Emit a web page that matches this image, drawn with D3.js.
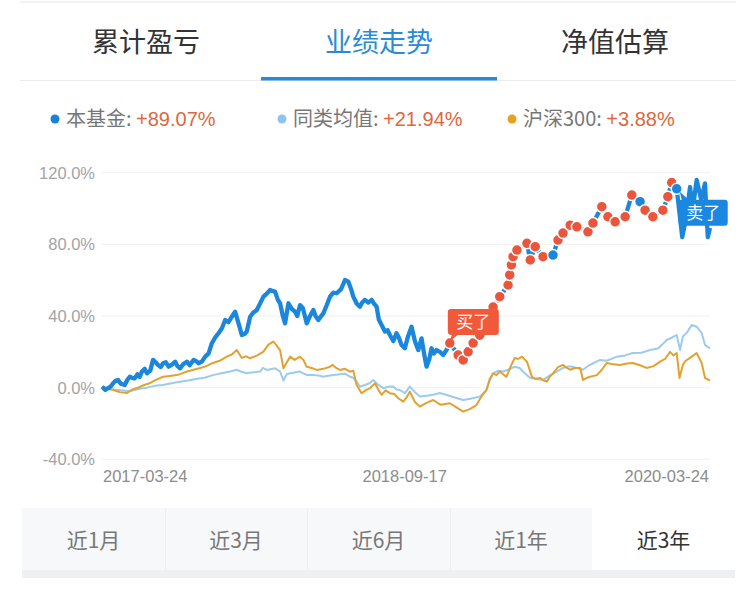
<!DOCTYPE html>
<html><head><meta charset="utf-8">
<script src="https://cdn.jsdelivr.net/npm/d3@7"></script>
<style>
html,body{margin:0;padding:0;background:#fff;}
svg{display:block;font-family:"Liberation Sans","Noto Sans CJK SC",sans-serif;}
</style></head>
<body>
<script>
// ---- data (day offsets from 2017-03-24, cumulative return %) ----
const startDate = "2017-03-24";
const endDate = "2020-03-24";
const topTabs = ["累计盈亏", "业绩走势", "净值估算"];
const bottomTabs = ["近1月", "近3月", "近6月", "近1年", "近3年"];
const seriesNames = ["本基金", "同类均值", "沪深300"];
const seriesFinal = ["+89.07%", "+21.94%", "+3.88%"];
const yTicks = [-40, 0, 40, 80, 120];
const xTickLabels = ["2017-03-24", "2018-09-17", "2020-03-24"];

const fund = [[0,0.5],[6,-1.2],[11,-0.3],[16,0.8],[20,2.4],[24,3.8],[29,4.3],[34,2.2],[41,1.5],[46,4.5],[50,6.1],[54,5.5],[59,5.2],[64,7.5],[68,6],[72,9],[77,10.5],[81,8],[87,9.5],[92,15.5],[97,14],[101,12.7],[106,11.5],[110,13.6],[115,14.2],[120,11.7],[126,12.8],[132,14.5],[136,12],[141,10.8],[146,13],[153,14.5],[158,12.5],[165,15.5],[170,14.8],[174,13.6],[180,14.5],[186,17.3],[192,19],[198,24.8],[204,28],[210,30.4],[216,33],[222,37.8],[228,36.5],[234,39.6],[240,42.4],[246,36],[252,29.4],[257,30],[261,31.3],[267,39.6],[273,42],[279,43.4],[285,47],[291,50.8],[297,52.5],[303,54.5],[307,54],[312,53.6],[317,49],[321,47.1],[326,40],[330,35.9],[336,47.1],[342,44],[348,42.4],[352,40],[357,46.1],[362,44.5],[369,35.9],[375,40],[381,43.4],[385,40],[390,37.8],[394,39.5],[399,41.5],[405,46],[411,50.8],[417,53],[423,52.7],[431,55],[438,60.1],[444,59.2],[449,55],[453,50.8],[459,47],[465,45.2],[469,47.5],[474,49],[480,47.5],[486,49],[490,47],[495,45.2],[499,38],[504,35],[510,31.3],[515,32],[519,29.4],[525,26],[531,30.4],[535,28],[540,23.8],[546,22],[551,28],[558,34],[564,26],[570,21],[576,27.5],[580,20],[585,11.7],[590,16],[594,22],[598,19],[603,21],[609,20],[615,18.2],[621,21],[627,24.9],[642,18.2],[651,15.5],[660,20],[669,24.9],[681,29.3],[699,37.8],[705,45],[717,50.8],[732,57.3],[735,62.9],[738,68.5],[741,73.1],[748,76.8],[766,80.6],[772,71.3],[781,78.7],[795,73.1],[813,74],[822,82.4],[831,86.3],[844,90.7],[856,89.8],[876,87],[885,91.9],[901,101],[912,95.4],[925,92.6],[943,95.4],[955,107.5],[970,103.8],[979,99.1],[993,95.4],[1011,99.1],[1020,106.6],[1027,114.5],[1036,111],[1046,84],[1053,95],[1060,112],[1065,100],[1072,116],[1080,105],[1087,114],[1092,84],[1096,89.07]];

const category = [[0,0.5],[20,-1],[35,-1.5],[50,-2],[65,-0.8],[81,0],[95,1],[110,1.5],[125,2.5],[141,3.3],[155,4],[171,5],[185,5.5],[200,7],[215,8],[231,9],[243,10],[250,9],[261,8],[270,8.5],[285,9],[290,11],[297,9.9],[312,10.8],[321,9],[327,4],[333,7.5],[339,8],[347,8.5],[357,9],[363,8],[369,7.1],[380,7],[390,6.8],[399,6.1],[405,6.5],[418,7],[429,7.5],[438,7.8],[447,6.1],[453,5.5],[459,3.3],[465,0.6],[474,1.5],[483,2.6],[489,4.3],[498,1.5],[507,-0.3],[516,0.5],[525,0.6],[531,-1],[537,-1.3],[546,-3.1],[555,0.6],[564,-2.5],[573,-5],[585,-4.5],[597,-4],[609,-3],[620,-4],[636,-5.5],[651,-6.9],[666,-6],[681,-5],[693,-1.3],[699,4],[705,8],[714,9.5],[723,9],[732,10],[744,11.7],[753,11],[762,8],[772,5.4],[783,4.8],[795,4.3],[808,7],[820,9],[831,11],[843,12],[856,11],[867,10],[878,12.5],[898,15.5],[910,15],[928,17.3],[943,18],[957,19.3],[972,19.5],[988,21],[1003,22],[1018,26.6],[1028,28],[1036,29.4],[1042,21],[1047,28.5],[1055,31],[1063,35],[1072,34],[1081,30.5],[1087,23.8],[1096,21.94]];

const hs300 = [[0,0.5],[10,-0.5],[20,-1.3],[32,-2.5],[45,-3],[55,-1],[65,0],[76,1.5],[87,2.6],[98,4.5],[110,6.1],[122,6.5],[135,7],[144,8],[153,9],[165,10],[177,11],[188,12],[200,13.8],[212,15],[225,17.3],[234,18.5],[243,21],[252,16.6],[260,17.5],[267,16.4],[280,18],[291,20.1],[300,24],[309,25.7],[315,23.5],[321,21],[327,10.8],[333,14],[339,17.3],[347,15.5],[357,17.3],[363,15.5],[369,11.7],[378,11],[387,9.9],[399,10.5],[411,11.7],[416,12.7],[422,11],[429,9.9],[438,10.5],[447,8.9],[453,9.5],[459,1.5],[468,-3.1],[475,-1.5],[483,-0.3],[492,2.4],[498,-1],[504,-4],[511,-1.5],[519,-3.1],[527,-3.5],[534,-5.9],[543,-7.8],[549,-5.5],[555,-2.2],[564,-8],[573,-10.6],[585,-8.5],[597,-6.9],[610,-9.5],[627,-8.7],[639,-11],[651,-13.4],[663,-12],[675,-9.7],[684,-5],[693,-1.3],[699,5],[705,8],[711,7],[717,9],[723,7.5],[729,6],[737,12],[744,16.6],[750,16],[757,17.3],[766,14.5],[775,6],[781,5],[790,5.4],[796,4],[802,3.4],[807,6],[813,8],[822,11.5],[831,12.7],[838,11],[844,10],[853,11],[862,11],[867,4.3],[878,6],[892,7],[901,10],[910,13.8],[922,13],[934,12.7],[946,13.5],[957,13.8],[970,12.5],[982,11],[994,12],[1006,14.5],[1015,16],[1024,20],[1030,18],[1036,19.3],[1041,5.4],[1047,12.7],[1052,15],[1060,16.6],[1066,18],[1072,19.3],[1081,13.8],[1087,5.4],[1096,3.88]];

const buyDays = [627,642,651,660,669,681,699,705,717,732,735,738,741,748,766,772,781,795,822,831,844,856,876,885,901,912,925,943,955,979,993,1011,1020,1027];
const sellDays = [813,970,1036];
const buyLabelDay = 627, sellLabelDay = 1036;

// ---- drawing ----
const W = 754, H = 605;
const svg = d3.select("body").append("svg").attr("width", W).attr("height", H);
const parse = d3.timeParse("%Y-%m-%d");
const t0 = parse(startDate);
const toDate = d => d3.timeDay.offset(t0, d);
const x = d3.scaleTime().domain([t0, parse(endDate)]).range([102, 710]);
const y = d3.scaleLinear().domain([-40, 120]).range([459.3, 172.7]);
const byDay = a => a.slice().sort((p,q)=>p[0]-q[0]);

const C = {fund:"#1a87dc", cat:"#9ccbee", hs:"#e3a12f", red:"#ea553b", blueTab:"#2a8ad6"};

// top tabs
svg.append("rect").attr("x",20).attr("y",1).attr("width",716).attr("height",2).attr("fill","#f3f3f3");
const tabCx = [146, 379, 615];
topTabs.forEach((t,i)=>{
  svg.append("text").attr("x",tabCx[i]).attr("y",42).attr("text-anchor","middle").attr("dy","0.36em")
    .attr("font-size",27).attr("font-family","'Noto Sans CJK SC',sans-serif")
    .attr("fill", i===1 ? C.blueTab : "#333").text(t);
});
svg.append("rect").attr("x",20).attr("y",80).attr("width",716).attr("height",1).attr("fill","#ececec");
svg.append("rect").attr("x",261).attr("y",77).attr("width",236).attr("height",3.5).attr("fill",C.blueTab);

// legend
const legX = [55, 282, 512];
const legCol = ["#1782d9", "#8cc3ef", "#e6a21c"];
seriesNames.forEach((n,i)=>{
  svg.append("circle").attr("cx",legX[i]).attr("cy",119).attr("r",4.5).attr("fill",legCol[i]);
  const t = svg.append("text").attr("x",legX[i]+11).attr("y",119).attr("dy","0.36em").attr("font-size",20)
    .attr("font-family","'Noto Sans CJK SC',sans-serif");
  t.append("tspan").attr("fill","#777").text(n+": ");
  t.append("tspan").attr("fill","#e0673d").attr("font-family","'Liberation Sans',sans-serif").text(seriesFinal[i]);
});

// grid + y labels
yTicks.forEach(v=>{
  svg.append("line").attr("x1",102).attr("x2",710).attr("y1",y(v)).attr("y2",y(v))
    .attr("stroke","#f1f1f1").attr("stroke-width",1);
  svg.append("text").attr("x",95).attr("y",y(v)).attr("dy","0.36em").attr("text-anchor","end")
    .attr("font-size",16.5).attr("fill","#a3a3a3").text(v.toFixed(1)+"%");
});

// x labels
const anchors = ["start","middle","end"];
xTickLabels.forEach((s,i)=>{
  svg.append("text").attr("x", x(parse(s)) + (i===0?1:(i===2?-1:2))).attr("y",476).attr("dy","0.36em")
    .attr("text-anchor",anchors[i]).attr("font-size",16.5).attr("fill","#8c8c8c").text(s);
});

// lines
const line = d3.line().x(d=>x(toDate(d[0]))).y(d=>y(d[1]));
svg.append("path").datum(byDay(category)).attr("d",line).attr("fill","none").attr("stroke",C.cat).attr("stroke-width",2).attr("stroke-linejoin","round");
svg.append("path").datum(byDay(hs300)).attr("d",line).attr("fill","none").attr("stroke",C.hs).attr("stroke-width",2).attr("stroke-linejoin","round");
svg.append("path").datum(byDay(fund)).attr("d",line).attr("fill","none").attr("stroke",C.fund).attr("stroke-width",4.3).attr("stroke-linejoin","round");

// markers
const fv = new Map(fund.map(d=>[d[0],d[1]]));
const marks = buyDays.map(d=>({d, c:C.red})).concat(sellDays.map(d=>({d, c:C.fund}))).sort((a,b)=>a.d-b.d);
svg.append("g").selectAll("circle").data(marks).join("circle")
  .attr("cx",m=>x(toDate(m.d))).attr("cy",m=>y(fv.get(m.d))).attr("r",5.5)
  .attr("fill",m=>m.c).attr("stroke","#fff").attr("stroke-width",1.5);

// buy label
{
  const px = x(toDate(buyLabelDay)), py = y(fv.get(buyLabelDay));
  const bx = px-2, by = py-34, bw = 51, bh = 26;
  svg.append("path").attr("d",`M${bx+3},${by} h${bw-6} q3,0 3,3 v${bh-6} q0,3 -3,3 H${bx+10} L${bx+2},${by+bh+6} L${bx+4},${by+bh} q-4,0 -4,-3 V${by+3} q0,-3 3,-3 Z`)
    .attr("fill","#f05a3a");
  svg.append("text").attr("x",bx+bw/2).attr("y",by+bh/2).attr("dy","0.36em").attr("text-anchor","middle")
    .attr("font-size",17).attr("fill","#fff").attr("font-family","'Noto Sans CJK SC',sans-serif").text("买了");
}
// sell label
{
  const px = x(toDate(sellLabelDay)), py = y(fv.get(sellLabelDay));
  const bx = px+2, by = py+11, bw = 49, bh = 26;
  svg.append("path").attr("d",`M${bx+3},${by} L${bx+1},${by-8} L${bx+10},${by} h${bw-13} q3,0 3,3 v${bh-6} q0,3 -3,3 h${-(bw-6)} q-3,0 -3,-3 v${-(bh-6)} q0,-3 3,-3 Z`)
    .attr("fill","#1a88e0");
  svg.append("text").attr("x",bx+bw/2).attr("y",by+bh/2).attr("dy","0.36em").attr("text-anchor","middle")
    .attr("font-size",17).attr("fill","#fff").attr("font-family","'Noto Sans CJK SC',sans-serif").text("卖了");
}

// bottom tabs
const tabEdges = [22,165,307,450,592,735];
svg.append("rect").attr("x",22).attr("y",508).attr("width",713).attr("height",62).attr("fill","#f7f8fa");
svg.append("rect").attr("x",22).attr("y",570).attr("width",713).attr("height",8).attr("fill","#eff0f2");
bottomTabs.forEach((t,i)=>{
  const x0 = tabEdges[i], x1 = tabEdges[i+1];
  if (i===4) svg.append("rect").attr("x",x0).attr("y",508).attr("width",x1-x0).attr("height",62).attr("fill","#fff");
  if (i>0 && i<4) svg.append("rect").attr("x",x0).attr("y",508).attr("width",1).attr("height",62).attr("fill","#eeeff1");
  svg.append("text").attr("x",(x0+x1)/2).attr("y",540).attr("dy","0.36em").attr("text-anchor","middle")
    .attr("font-size",21).attr("font-family","'Noto Sans CJK SC',sans-serif")
    .attr("fill", i===4 ? "#333" : "#777").text(t);
});
</script>
</body></html>
